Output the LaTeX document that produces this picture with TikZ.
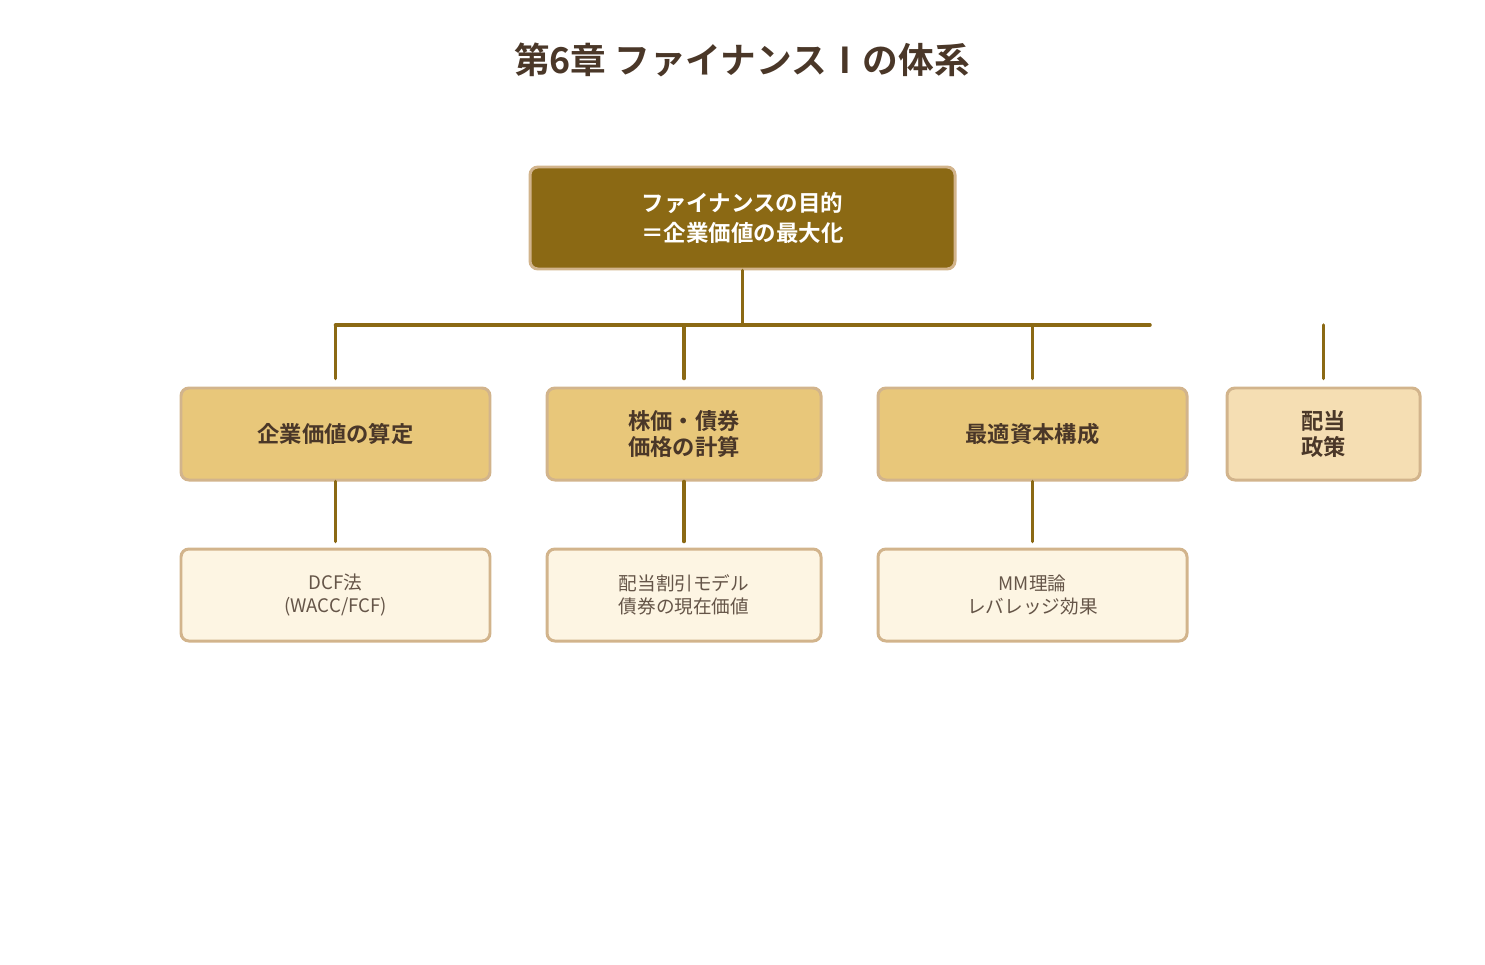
\documentclass[tikz,border=0pt]{standalone}
\usepackage{fontspec}
\setmainfont{Noto Sans CJK JP}[BoldFont={Noto Sans CJK JP Bold}]
\usetikzlibrary{positioning}
\definecolor{brownline}{HTML}{8B6914}
\definecolor{tanedge}{HTML}{D2B48C}
\definecolor{darktxt}{HTML}{4A3728}
\definecolor{midfill}{HTML}{E8C77A}
\definecolor{palefill}{HTML}{F5DEB3}
\definecolor{lowfill}{HTML}{FDF5E3}

\begin{document}
\begin{tikzpicture}[
 top/.style={draw=tanedge,line width=1.7pt,rounded corners=4.5pt,fill=brownline,text=white,align=center,
   font=\fontsize{12.8}{17}\selectfont\bfseries,minimum width=8.5cm,minimum height=2.04cm},
 sub/.style={draw=tanedge,line width=1.7pt,rounded corners=4.5pt,fill=midfill,text=darktxt,align=center,
   font=\fontsize{12.7}{15.3}\selectfont\bfseries,minimum height=1.84cm},
 leaf/.style={draw=tanedge,line width=1.7pt,rounded corners=4.5pt,fill=lowfill,text=darktxt!85,align=center,
   font=\fontsize{10.6}{13}\selectfont,minimum height=1.84cm},
 link/.style={brownline,line width=2pt,line cap=round}]
\useasboundingbox (0,0) rectangle (29.7,-19.28);
\node[text=darktxt,font=\fontsize{20.3}{24}\selectfont\bfseries] (title) at (14.84,-1.2) {第6章 ファイナンスⅠの体系};
\node[top] (goal) at (14.85,-4.36) {ファイナンスの目的\\＝企業価値の最大化};
% second level
\node[sub,minimum width=6.18cm] (val) at (6.71,-8.68) {企業価値の算定};
\node[sub,minimum width=5.48cm] (price) at (13.68,-8.68) {株価・債券\\価格の計算};
\node[sub,minimum width=6.18cm] (cap) at (20.65,-8.68) {最適資本構成};
\node[sub,minimum width=3.86cm,fill=palefill] (div) at (26.47,-8.68) {配当\\政策};
% third level
\node[leaf,minimum width=6.18cm] (dcf) at (6.71,-11.9) {DCF法\\(WACC/FCF)};
\node[leaf,minimum width=5.48cm] (ddm) at (13.68,-11.9) {配当割引モデル\\債券の現在価値};
\node[leaf,minimum width=6.18cm] (mm) at (20.65,-11.9) {MM理論\\レバレッジ効果};
% branches
\coordinate (bus) at (14.85,-6.5);
\coordinate (busend) at (23.0,-6.5);
\draw[link] (goal.south) -- (bus);
\draw[link] (val.north |- bus) -- (busend);
\foreach \n in {val,price,cap,div}
  \draw[link] (\n.north |- bus) -- ([yshift=0.16cm]\n.north);
\draw[link] (val.south) -- ([yshift=0.12cm]dcf.north);
\draw[link] (price.south) -- ([yshift=0.12cm]ddm.north);
\draw[link] (cap.south) -- ([yshift=0.12cm]mm.north);
\end{tikzpicture}
\end{document}
